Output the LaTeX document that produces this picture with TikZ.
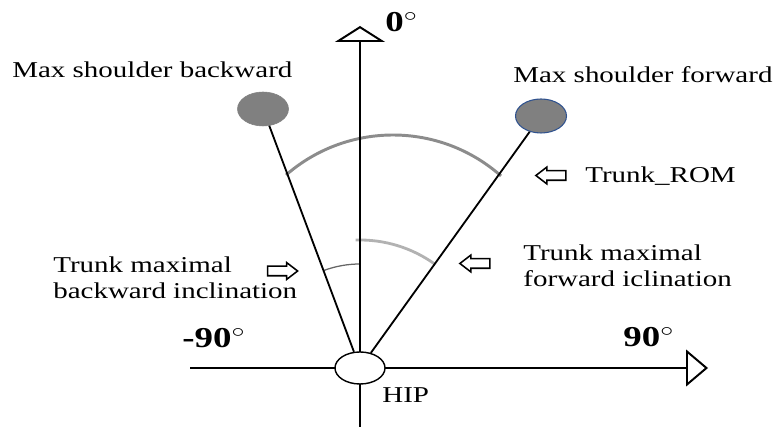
\documentclass[tikz,border=0pt]{standalone}
\usepackage{fontspec}
\setmainfont{Liberation Serif}
\usetikzlibrary{shapes.geometric, shapes.arrows, arrows.meta}
\definecolor{fwdblue}{RGB}{47, 82, 143}

\begin{document}
\begin{tikzpicture}[x=0.025cm, y=0.025cm,
    lbl/.style={inner sep=0, transform shape, xscale=1.28, align=left, font=\fontsize{16.1}{18.8}\selectfont},
    deg/.style={inner sep=0, transform shape, xscale=1.28, font=\fontsize{20.5}{22}\selectfont\bfseries},
    pointer/.style={draw, single arrow, line width=1.1pt, inner xsep=0, inner ysep=0.1cm, minimum height=0.75cm, single arrow head extend=0.09cm, single arrow tip angle=75},
    shoulder/.style={ellipse, fill=black!50, inner sep=0, minimum width=1.275cm, minimum height=0.85cm},
    trunk/.style={line width=1.3pt},
    axis/.style={line width=2.1pt}]
  \useasboundingbox (0,0) rectangle (780,432);
  \coordinate (o) at (360,64);
  \coordinate (romc) at (393,134);
  \draw[line width=2.1pt, black!45] (romc) ++(131:163) arc[start angle=131, end angle=48.5, radius=163];
  \draw[line width=2pt, black!30] (o) ++(92:128) arc[start angle=92, end angle=54, radius=128];
  \draw[line width=0.9pt, black!60] (o) ++(110.5:104) arc[start angle=110.5, end angle=90, radius=104];
  \coordinate (ybot) at (360,5);
  \coordinate (ytop) at (360,406);
  \coordinate (xleft) at (190,64);
  \coordinate (xright) at (708,64);
  \draw[axis, -{Triangle[open, length=0.4cm, width=1.25cm, line width'=1.4pt]}] (ybot) -- (ytop);
  \draw[axis, -{Triangle[open, length=0.55cm, width=0.92cm, line width'=1.4pt]}] (xleft) -- (xright);
  \node[draw, ellipse, fill=white, line width=1pt, inner sep=0, minimum width=1.25cm, minimum height=0.8cm] (hip) at (o) {};
  \node[shoulder, draw=black!50] (bsh) at (263,323) {};
  \node[shoulder, draw=fwdblue, line width=0.75pt] (fsh) at (541,316) {};
  \draw[trunk] (hip) -- (bsh);
  \draw[trunk] (hip) -- (fsh);
  \node[lbl, anchor=base west] (bshlbl) at (12,354) {Max shoulder backward};
  \node[lbl, anchor=base west] (fshlbl) at (513,349) {Max shoulder forward};
  \node[lbl, anchor=base west] (romlbl) at (585,249) {Trunk\_ROM};
  \node[lbl, anchor=base west] (fwdlbl) at (523,145.5) {Trunk maximal\\forward iclination};
  \node[lbl, anchor=base west] (bwdlbl) at (53,133) {Trunk maximal\\backward inclination};
  \node[lbl, anchor=base west] (hiplbl) at (382,29) {HIP};
  \node[deg, anchor=base west] (deg0) at (385,400) {0$^{\circ}$};
  \node[deg, anchor=base west] (degm) at (182,84) {-90$^{\circ}$};
  \node[deg, anchor=base west] (degp) at (623,85) {90$^{\circ}$};
  \node[pointer, shape border rotate=180] (rompt) at (554,256.5) {};
  \node[pointer, shape border rotate=180] (fwdpt) at (478,168.5) {};
  \node[pointer] (bwdpt) at (279.5,161) {};
\end{tikzpicture}
\end{document}
